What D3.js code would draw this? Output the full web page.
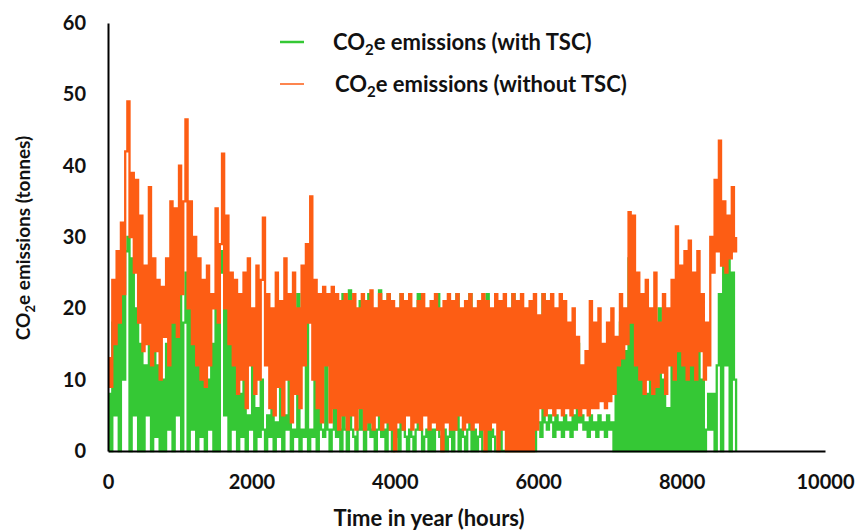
<!DOCTYPE html>
<html>
<head>
<meta charset="utf-8">
<script src="https://cdn.jsdelivr.net/npm/d3@7"></script>
<style>
  body { margin: 0; background: #fff; }
  text { font-family: Lato, "Open Sans", sans-serif; font-weight: bold; fill: #111; }
</style>
</head>
<body>
<script>
var w = 857;
var h = 532;

// ----- DATA (one value every 30 hours) -----
var stepHours = 30;
var xTicks = [0, 2000, 4000, 6000, 8000, 10000];
var yTicks = [0, 10, 20, 30, 40, 50, 60];
var seriesNames = ["with TSC", "without TSC"];

// CO2e emissions without TSC (orange)
var withoutTSC = [
  13, 9, 24, 15, 28, 18, 32, 22, 42, 49,
  30, 39, 25, 38, 18, 33, 14, 26, 15, 37,
  12, 27, 14, 24, 10, 23, 16, 27, 12, 35,
  18, 34, 16, 40, 22, 35, 46.5, 20, 35, 15,
  30, 12, 27, 10, 24, 9, 26, 12, 22, 20,
  34, 18, 29, 41.7, 20, 33, 15, 25, 12, 24,
  8, 22, 10, 25, 6, 27, 12, 20, 8, 26,
  10, 24, 32.7, 12, 22, 6, 20, 5, 25, 9,
  21, 5, 27, 10, 22, 4, 25, 8, 20, 6,
  26, 12, 29, 18, 35.7, 10, 24, 6, 22, 4,
  23, 12, 22, 4, 23, 6, 22, 3, 21, 5,
  22, 3, 21, 5, 22, 3, 20, 6, 22, 3,
  21, 4, 22.5, 3, 20, 5, 22, 3, 21, 4,
  22, 3, 21, 0, 20, 4, 22, 3, 21, 5,
  22, 3, 20, 4, 21, 3, 22, 5, 20, 3,
  21, 4, 22, 3, 20, 0, 21, 4, 22, 3,
  21, 3, 22, 5, 20, 3, 21, 4, 22, 3,
  20, 4, 21, 3, 22, 0, 21, 3, 20, 4,
  22, 0, 21, 3, 22, 0, 20, 0, 22, 0,
  21, 0, 22, 0, 20, 0, 21, 0, 22, 3,
  19, 6, 22, 5, 21, 6, 22, 5, 20, 6,
  22, 5, 21, 6, 18, 5, 20, 6, 16, 5,
  12, 6, 14, 5, 21, 6, 18, 6, 20, 7,
  15, 6, 18, 7, 20, 8, 16, 12, 22, 13,
  20, 15, 33.5, 18, 33, 12, 25, 10, 22, 8,
  24, 10, 20, 8, 25, 9, 18, 11, 22, 8,
  20, 12, 24, 10, 31.5, 14, 26, 12, 28, 10,
  29.5, 12, 25, 10, 28, 14, 22, 10, 18, 12,
  30, 25, 38, 28, 43.5, 26, 35, 25, 33, 27,
  37, 28, 30
];

// CO2e emissions with TSC (green)
var withTSC = [
  8, 0, 18, 5, 20, 0, 22, 10, 28, 30,
  0, 27, 5, 20, 0, 15, 0, 12, 5, 18,
  0, 14, 2, 12, 0, 10, 0, 15, 3, 20,
  0, 22, 5, 27, 0, 18, 25, 0, 20, 3,
  15, 0, 12, 2, 14, 0, 10, 3, 15, 0,
  22, 0, 25, 28, 5, 20, 0, 15, 3, 12,
  0, 8, 2, 10, 0, 5, 3, 12, 0, 6,
  2, 10, 3, 0, 5, 2, 8, 0, 4, 2,
  10, 0, 5, 3, 20, 0, 3, 2, 22, 0,
  3, 2, 18, 0, 3, 2, 10, 0, 22, 3,
  2, 22, 3, 0, 3, 22, 2, 3, 0, 22,
  3, 0, 22.5, 3, 2, 0, 3, 21, 3, 0,
  3, 22, 2, 3, 0, 3, 22.5, 2, 3, 0,
  22, 3, 0, 2, 3, 0, 22, 3, 2, 0,
  3, 2, 0, 3, 22, 3, 0, 2, 3, 0,
  3, 0, 3, 22, 2, 0, 3, 0, 2, 3,
  0, 3, 22, 0, 3, 2, 0, 3, 22, 0,
  3, 0, 2, 3, 0, 0, 22, 0, 3, 2,
  0, 0, 3, 0, 0, 0, 0, 0, 22, 0,
  0, 0, 0, 0, 0, 0, 0, 0, 0, 4,
  4, 2, 22, 4, 3, 5, 4, 2, 5, 3,
  4, 2, 5, 3, 4, 2, 5, 3, 15, 4,
  5, 3, 4, 2, 5, 3, 4, 2, 5, 3,
  4, 2, 5, 3, 4, 0, 12, 0, 18, 0,
  14, 0, 27, 0, 24, 0, 15, 0, 10, 0,
  8, 0, 15, 0, 12, 0, 20, 0, 10, 0,
  6, 0, 12, 0, 14, 0, 18, 0, 22, 0,
  12, 0, 15, 0, 20, 0, 10, 0, 3, 8,
  3, 8, 0, 12, 22, 0, 30, 12, 28, 0,
  25, 10, 0
];

var green = "#35c835";
var orange = "#fd5d14";

var svg = d3.select("body").append("svg")
  .attr("width", w)
  .attr("height", h);

var x = d3.scaleLinear().domain([0, 10000]).range([108, 825]);
var y = d3.scaleLinear().domain([0, 60]).range([451, 23]);

// hourly data is so dense that it reads as vertical strokes -> step curve
var line = d3.line()
  .curve(d3.curveStepAfter)
  .x(function(d, i) { return x(i * stepHours); })
  .y(function(d) { return y(d); });

// green first, orange drawn over it
svg.append("path")
  .datum(withTSC)
  .attr("fill", "none")
  .attr("stroke", green)
  .attr("stroke-width", 2.3)
  .attr("d", line);

svg.append("path")
  .datum(withoutTSC)
  .attr("fill", "none")
  .attr("stroke", orange)
  .attr("stroke-width", 2.3)
  .attr("d", line);

// AXES
svg.append("g")
  .attr("transform", "translate(108,0)")
  .call(d3.axisLeft(y).tickValues(yTicks).tickSize(0).tickSizeOuter(0).tickPadding(22));

svg.append("g")
  .attr("transform", "translate(0,451)")
  .call(d3.axisBottom(x).tickValues(xTicks).tickFormat(d3.format("d"))
    .tickSize(0).tickSizeOuter(0).tickPadding(24));

svg.selectAll(".domain").attr("stroke", "#000").attr("stroke-width", 2);
svg.selectAll(".tick text")
  .style("font-size", "20px")
  .style("font-family", "Lato, 'Open Sans', sans-serif")
  .style("font-weight", "bold")
  .attr("fill", "#111");

// AXIS TITLES
var yTitle = svg.append("text")
  .attr("transform", "translate(30,238) rotate(-90)")
  .attr("text-anchor", "middle")
  .style("font-size", "19px");
yTitle.append("tspan").text("CO");
yTitle.append("tspan").attr("dy", 5).style("font-size", "13px").text("2");
yTitle.append("tspan").attr("dy", -5).text("e emissions (tonnes)");

svg.append("text")
  .attr("x", 429)
  .attr("y", 526)
  .attr("text-anchor", "middle")
  .style("font-size", "22px")
  .text("Time in year (hours)");

// LEGEND
var legend = [
  { name: seriesNames[0], color: green, width: 2.5, y: 42, tx: 333 },
  { name: seriesNames[1], color: orange, width: 1.5, y: 84, tx: 335 }
];

legend.forEach(function(d) {
  svg.append("line")
    .attr("x1", 280).attr("x2", 304)
    .attr("y1", d.y).attr("y2", d.y)
    .attr("stroke", d.color)
    .attr("stroke-width", d.width);
  var t = svg.append("text")
    .attr("x", d.tx)
    .attr("y", d.y + 8)
    .style("font-size", "22px");
  t.append("tspan").text("CO");
  t.append("tspan").attr("dy", 5).style("font-size", "15px").text("2");
  t.append("tspan").attr("dy", -5).text("e emissions (" + d.name + ")");
});
</script>
</body>
</html>
